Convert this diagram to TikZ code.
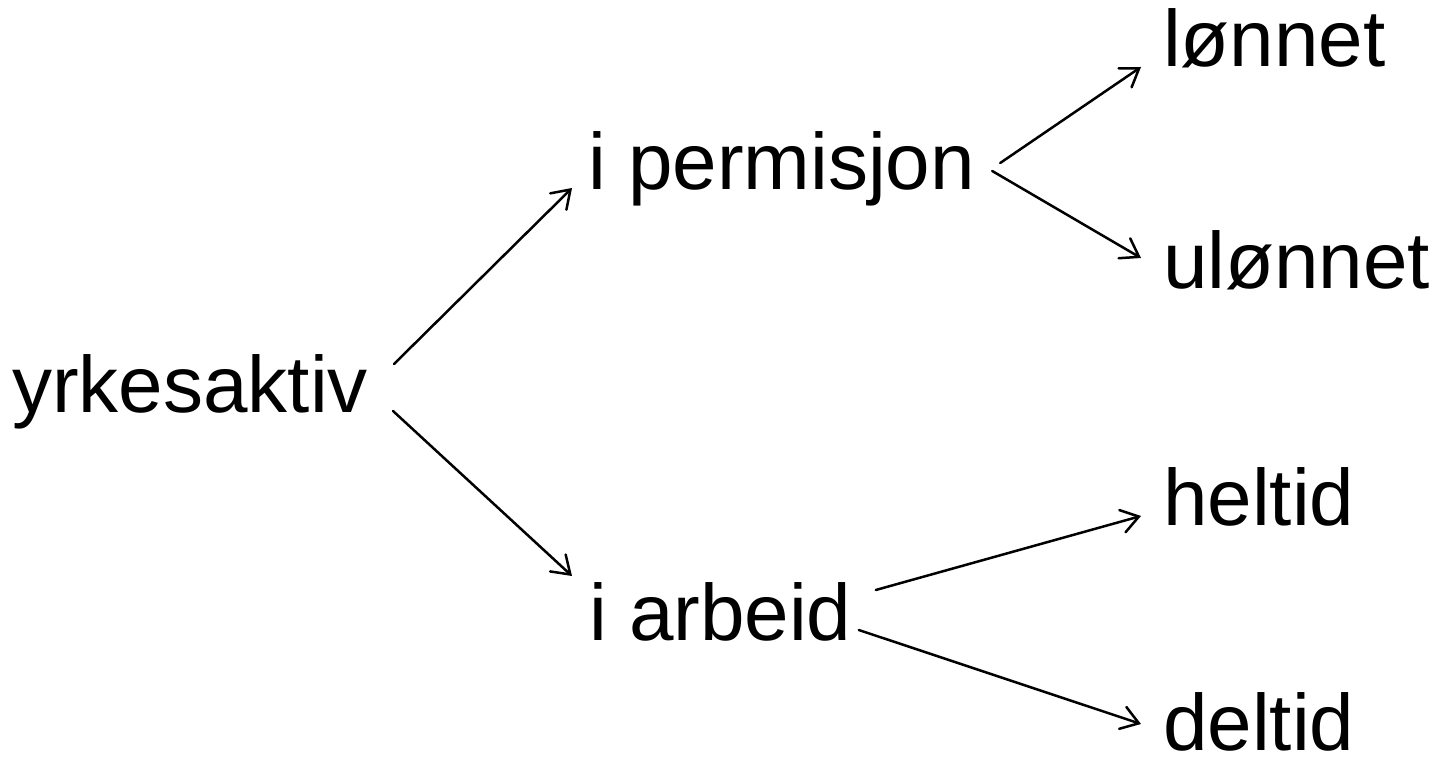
\documentclass[tikz,border=0pt]{standalone}
\usepackage{fontspec}
\setmainfont{Liberation Sans}
\usetikzlibrary{arrows.meta}
\begin{document}
\begin{tikzpicture}[x=1pt,y=-1pt,
  lbl/.style={anchor=base west,inner sep=0pt,font=\fontsize{80}{96}\selectfont},
  conn/.style={line width=2.5pt,line cap=round,-{Straight Barb[length=17pt,width=23pt,line width=2.5pt,line cap=round]}}]
\useasboundingbox (0,0) rectangle (1439,759);
\node[lbl] (yrk) at (12,412) {yrkesaktiv};
\node[lbl] (perm) at (588,190) {i permisjon};
\node[lbl] (arb) at (589,640) {i arbeid};
\node[lbl] (lon) at (1163,67) {lønnet};
\node[lbl] (ulon) at (1163,288) {ulønnet};
\node[lbl] (hel) at (1163,525) {heltid};
\node[lbl] (del) at (1163,750) {deltid};
\draw[conn] ([shift={(26,-48)}]yrk.base east) -- ([shift={(-16,-2)}]perm.base west);
\draw[conn] ([shift={(25,-1)}]yrk.base east) -- ([shift={(-17,-64)}]arb.base west);
\draw[conn] ([shift={(25,-27)}]perm.base east) -- ([shift={(-22,0)}]lon.base west);
\draw[conn] ([shift={(17,-19)}]perm.base east) -- ([shift={(-22,-30)}]ulon.base west);
\draw[conn] ([shift={(24,-50)}]arb.base east) -- ([shift={(-22,-9)}]hel.base west);
\draw[conn] ([shift={(7,-10)}]arb.base east) -- ([shift={(-22,-26)}]del.base west);
\end{tikzpicture}
\end{document}
